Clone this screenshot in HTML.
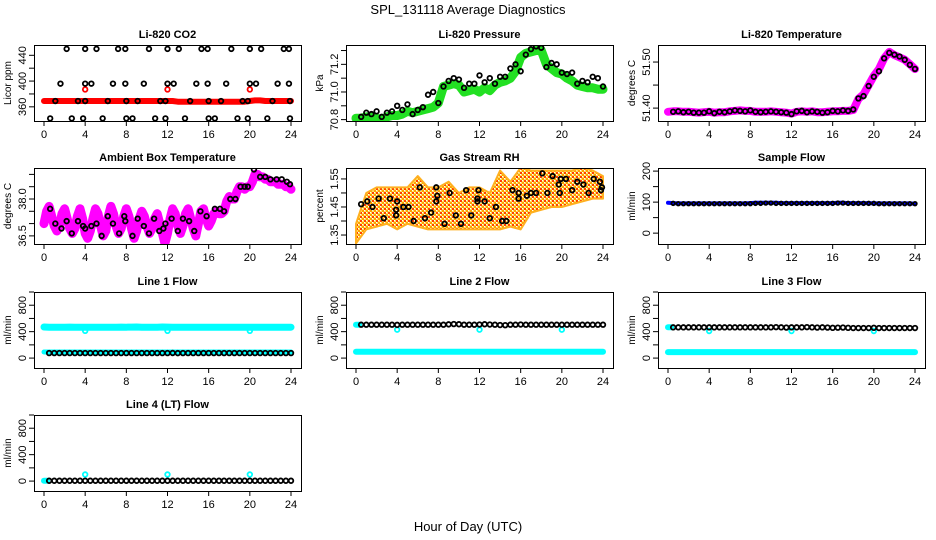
<!DOCTYPE html>
<html><head><meta charset="utf-8">
<style>
html,body{margin:0;padding:0;background:#fff;}
svg{display:block;font-family:"Liberation Sans",Arial,sans-serif;}
</style></head>
<body>
<svg id="chart" width="936" height="540" viewBox="0 0 936 540">
<defs>
<pattern id="rhpat" width="4" height="4" patternUnits="userSpaceOnUse">
<rect width="4" height="4" fill="#ffe060"/>
<rect x="0" y="0" width="2" height="2" fill="#ff4000"/>
<rect x="2" y="2" width="2" height="2" fill="#ffa000"/>
<rect x="2" y="0" width="1" height="1" fill="#ffffff"/>
<rect x="0" y="2" width="1" height="1" fill="#ffffff"/>
</pattern>
</defs>
<rect width="936" height="540" fill="#fff"/>
<text x="468" y="14" text-anchor="middle" font-size="13">SPL_131118  Average Diagnostics</text>
<text x="468" y="531" text-anchor="middle" font-size="13">Hour of Day (UTC)</text>
</svg>
<script>
// ---------- shared time arrays ----------
const bandHours = [0,0.5,1,1.5,2,2.5,3,3.5,4,4.5,5,5.5,6,6.5,7,7.5,8,8.5,9,9.5,10,10.5,11,11.5,12,12.5,13,13.5,14,14.5,15,15.5,16,16.5,17,17.5,18,18.5,19,19.5,20,20.5,21,21.5,22,22.5,23,23.5,24];
const ptHours = [0.5,1,1.5,2,2.5,3,3.5,4,4.5,5,5.5,6,6.5,7,7.5,8,8.5,9,9.5,10,10.5,11,11.5,12,12.5,13,13.5,14,14.5,15,15.5,16,16.5,17,17.5,18,18.5,19,19.5,20,20.5,21,21.5,22,22.5,23,23.5,24];
const xTicks = [0,4,8,12,16,20,24];
const spikeHours = [4,12,20];

// ---------- CO2 ----------
const co2Hours = [2.2,4,5.1,7.2,7.9,10.2,12,13.1,15.3,15.9,18.2,20,21.1,23.3,23.8, 1.6,4,4.6,6.7,7.9,9.7,12,12.6,14.8,15.9,17.7,20,20.6,22.7,23.8, 1.1,3.3,4,6.2,8,9.1,11.3,11.8,14.2,16,17.2,19.3,19.8,22.2,23.9, 0.6,2.7,3.8,5.7,8,8.6,10.8,11.8,13.7,16,16.6,18.8,19.8,21.7,23.9];
const co2Values = [450,450,450,450,450,450,450,450,450,450,450,450,450,450,450, 396,396,396,396,396,396,396,396,396,396,396,396,396,396,396, 369,369,369,369,369,369,369,369,369,369,369,369,369,369,369, 342,342,342,342,342,342,342,342,342,342,342,342,342,342,342];
const co2Band = [369,369,369,369,369,369,369,369,369,369,369,369,369,369,369,369,369,369,369,369,369,369,369,369,369,369,368,368,368,368,368,368,368,368,368,368,368,368,368,368,369,370,370,369,369,369,369,369,369];
const co2Spikes = [387,387,387];

// ---------- Pressure ----------
const presBand = [70.81,70.81,70.82,70.82,70.81,70.80,70.82,70.83,70.83,70.84,70.86,70.85,70.86,70.87,70.88,70.89,70.92,71.04,71.05,71.06,71.05,71.00,71.01,71.02,71.00,71.03,71.01,71.05,71.07,71.08,71.10,71.15,71.25,71.28,71.29,71.30,71.30,71.20,71.17,71.14,71.13,71.10,71.08,71.05,71.04,71.03,71.03,71.02,71.02];
const presPts = [70.82,70.85,70.84,70.86,70.82,70.85,70.86,70.90,70.87,70.91,70.84,70.87,70.89,70.98,71.00,70.92,71.04,71.08,71.10,71.09,71.03,71.06,71.06,71.12,71.07,71.10,71.06,71.11,71.11,71.17,71.20,71.15,71.27,71.31,71.33,71.32,71.18,71.21,71.20,71.14,71.13,71.14,71.06,71.08,71.07,71.11,71.10,71.04];

// ---------- Li-820 Temperature ----------
const liTempBand = [51.392,51.393,51.393,51.392,51.392,51.391,51.390,51.391,51.392,51.390,51.391,51.391,51.393,51.394,51.395,51.394,51.394,51.392,51.392,51.392,51.393,51.392,51.391,51.390,51.388,51.392,51.393,51.392,51.393,51.391,51.391,51.392,51.393,51.393,51.394,51.394,51.396,51.420,51.430,51.450,51.470,51.485,51.508,51.522,51.515,51.510,51.505,51.495,51.485];
const liTempPts = [51.392,51.393,51.391,51.392,51.390,51.390,51.390,51.393,51.389,51.392,51.391,51.393,51.395,51.394,51.393,51.395,51.392,51.391,51.392,51.393,51.392,51.391,51.390,51.387,51.393,51.394,51.391,51.393,51.392,51.390,51.391,51.394,51.393,51.395,51.394,51.397,51.421,51.426,51.448,51.468,51.480,51.508,51.520,51.516,51.512,51.505,51.494,51.485];

// ---------- Ambient Box Temperature ----------
const ambBand = [37.0,37.5,37.7,37.3,36.9,36.7,36.9,37.4,37.6,37.2,36.8,36.6,36.8,37.3,37.6,37.2,36.6,36.4,36.7,37.2,37.6,37.4,36.9,36.5,36.7,37.3,37.7,37.4,36.9,36.6,36.8,37.3,37.6,37.3,36.8,36.4,36.7,37.2,37.5,37.3,36.9,36.6,36.8,37.2,37.4,37.0,36.6,36.2,36.6,37.2,37.6,37.4,36.9,36.6,36.9,37.4,37.6,37.2,36.8,36.5,37.0,37.5,37.6,37.2,36.9,37.1,37.4,37.5,37.4,37.4,37.5,37.9,38.1,38.0,38.0,38.3,38.5,38.5,38.4,38.5,38.5,38.7,39.0,39.0,38.9,38.9,38.8,38.8,38.7,38.7,38.7,38.6,38.6,38.6,38.5,38.5,38.4];
const ambPtHours = [0.6,1.1,1.7,2.2,2.7,3.3,3.8,4,4.6,5.1,5.6,6.2,6.7,7.3,7.8,7.9,8.6,9.1,9.7,10.2,10.7,11.2,11.6,11.8,12.4,13,13.5,14.1,14.6,15.2,15.8,16.6,17.1,17.5,18.1,18.6,19.1,19.5,19.8,20.4,21,21.5,22,22.6,23.1,23.6,23.9];
const ambPts = [37.6,37.0,36.8,37.1,36.6,37.1,36.9,36.8,36.9,37.0,36.5,37.3,37.0,36.6,37.3,37.1,36.5,37.2,36.9,36.6,37.2,36.7,36.8,37.0,37.2,36.7,37.2,37.1,36.7,37.5,37.3,37.6,37.6,37.5,38.0,38.0,38.5,38.5,38.5,39.2,38.9,38.9,38.8,38.8,38.8,38.7,38.6];

// ---------- Gas Stream RH ----------
const rhBandHours = [0,1,2,3,4,5,6,7,8,9,10,11,12,13,14,15,16,17,18,19,20,21,22,23,24];
const rhLow = [1.32,1.37,1.38,1.39,1.37,1.39,1.38,1.37,1.37,1.37,1.37,1.37,1.37,1.37,1.37,1.38,1.37,1.43,1.44,1.45,1.45,1.46,1.47,1.48,1.48];
const rhHigh = [1.39,1.50,1.52,1.52,1.52,1.52,1.56,1.52,1.52,1.54,1.50,1.52,1.52,1.50,1.58,1.54,1.59,1.58,1.58,1.58,1.58,1.58,1.59,1.58,1.56];
const rhPtHours = [0.5,1.1,1.6,2.2,2.7,3.3,3.9,3.9,4,4.6,5.1,5.6,6.2,6.7,7.3,7.8,7.9,7.8,8.6,9.1,9.7,10.2,10.7,11.2,11.8,11.8,11.9,12.5,13,13.6,14.2,14.6,15.2,15.8,15.8,16.6,17,17.5,18.1,18.6,19.1,19.7,19.8,19.9,20.4,21,21.5,22.1,22.6,23.1,23.7,23.8,23.9];
const rhPts = [1.46,1.47,1.45,1.48,1.41,1.48,1.42,1.44,1.47,1.45,1.45,1.40,1.52,1.41,1.43,1.52,1.49,1.47,1.39,1.50,1.42,1.39,1.51,1.42,1.48,1.47,1.51,1.47,1.41,1.45,1.40,1.40,1.51,1.50,1.48,1.49,1.50,1.50,1.57,1.50,1.56,1.53,1.50,1.55,1.55,1.51,1.54,1.53,1.50,1.55,1.54,1.51,1.52];

// ---------- Sample Flow ----------
const sampleBand = [98,97,96,96,96,96,96,96,96,96,96,96,96,96,96,96,97,98,98,98,98,98,97,97,97,97,97,97,97,97,97,97,97,98,98,97,97,97,97,97,96,96,96,96,96,96,96,96,95];
const samplePts = [96,95,95,95,95,95,95,95,95,95,95,95,95,95,95,95,96,96,97,97,96,96,96,96,96,96,96,96,96,96,96,96,97,97,96,96,96,96,96,96,95,95,95,95,95,95,95,95];

// ---------- Line flows ----------
const l1High = [470,468,468,467,468,469,468,467,466,468,467,467,468,467,468,469,468,469,470,468,468,467,468,470,469,468,467,468,467,468,467,468,467,468,467,467,468,468,467,467,466,466,467,468,468,467,468,468,468];
const l1Low = [92,92,92,92,92,92,92,92,92,92,92,92,92,92,92,92,92,92,92,92,92,92,92,92,92,92,92,92,92,92,92,92,92,92,92,92,92,92,92,92,92,92,92,92,92,92,92,92,92];
const l1Pts = [76,76,76,76,76,76,76,76,76,76,76,76,76,76,76,76,76,76,76,76,76,76,76,76,77,75,76,76,76,76,76,76,76,76,76,76,76,76,76,76,76,76,76,76,76,76,76,76];
const l1Spikes = [412,412,412];

const l2Low = [95,95,95,95,95,95,95,95,95,95,95,95,95,95,95,95,95,95,95,95,95,95,95,95,95,95,95,95,95,95,95,95,95,95,95,95,95,95,95,95,95,95,95,95,95,95,95,95,95];
const l2Pts = [505,505,505,505,505,505,505,503,505,505,505,505,505,505,505,505,505,510,515,512,505,505,505,508,512,508,505,500,498,505,505,508,505,505,505,505,505,505,505,505,505,505,505,505,505,505,505,505];
const l2Spikes = [430,430,430];

const l3Low = [90,90,90,90,90,90,90,90,90,90,90,90,90,90,90,90,90,90,90,90,90,90,90,90,90,90,90,90,90,90,90,90,90,90,90,90,90,90,90,90,90,90,90,90,90,90,90,90,90];
const l3Pts = [465,465,465,465,465,465,465,465,465,465,465,465,465,465,465,465,465,465,465,465,468,465,462,465,465,465,468,465,462,465,462,458,460,462,458,455,455,455,455,458,455,455,455,455,455,455,455,455];
const l3Spikes = [410,410,410];

const l4Pts = [5,5,5,5,5,5,5,5,5,5,5,5,5,5,5,5,5,5,5,5,5,5,5,5,5,5,5,5,5,5,5,5,5,5,5,5,5,5,5,5,5,5,5,5,5,5,5,5];
const l4Spikes = [100,100,100];

// ---------- axis tick arrays ----------
const co2Ticks = [360,380,400,420,440], co2Labels = ["360","400","440"];
const presTicks = [70.8,70.9,71.0,71.1,71.2,71.3], presLabels = ["70.8","71.0","71.2"];
const liTempTicks = [51.40,51.45,51.50], liTempLabels = ["51.40","51.50"];
const ambTicks = [36.5,37.0,37.5,38.0,38.5,39.0], ambLabels = ["36.5","38.0"];
const rhTicks = [1.35,1.40,1.45,1.50,1.55], rhLabels = ["1.35","1.45","1.55"];
const sampleTicks = [0,50,100,150,200], sampleLabels = ["0","100","200"];
const flowTicks = [0,200,400,600,800,1000], flowLabels = ["0","400","800"];

// ---------- layout ----------
const NS = "http://www.w3.org/2000/svg";
const svg = document.getElementById("chart");
const rowTops = [45, 168, 292, 415];
const BOXW = 267, BOXH = 76;

function mk(tag, attrs, parent) {
  const e = document.createElementNS(NS, tag);
  for (const k in attrs) e.setAttribute(k, attrs[k]);
  (parent || svg).appendChild(e);
  return e;
}

function makePanel(col, row, title, ylab, ymin, ymax, ticks, labels, slug) {
  const x0 = 34 + col * 312, y0 = rowTops[row];
  const g = mk("g", {});
  
  
  const p = {g, x0, y0,
    sx: h => x0 + 10 + h * (247 / 24),
    sy: v => y0 + BOXH - (v - ymin) / (ymax - ymin) * BOXH};
  const clip = mk("clipPath", {id: "clip-" + slug}, g);
  mk("rect", {x: x0, y: y0, width: BOXW, height: BOXH}, clip);
  p.data = mk("g", {"clip-path": "url(#clip-" + slug + ")"}, g);
  
  
  const t = mk("text", {x: x0 + BOXW / 2, y: y0 - 7, "text-anchor": "middle", "font-size": "11", "font-weight": "bold"}, g);
  t.textContent = title;
  
  
  const yl = mk("text", {x: 0, y: 0, "text-anchor": "middle", "font-size": "10", transform: `translate(${x0 - 23},${y0 + BOXH / 2}) rotate(-90)`}, g);
  yl.textContent = ylab;
  
  
  const xa = mk("g", {stroke: "#000", "stroke-width": "1"}, g);
  
  
  xTicks.forEach(h => {
    mk("line", {x1: p.sx(h), x2: p.sx(h), y1: y0 + BOXH, y2: y0 + BOXH + 5}, xa);
    const lt = mk("text", {x: p.sx(h), y: y0 + BOXH + 17, "text-anchor": "middle", "font-size": "11", stroke: "none", fill: "#000"}, xa);
    lt.textContent = String(h);
    
    
  });
  const ya = mk("g", {stroke: "#000", "stroke-width": "1"}, g);
  
  
  ticks.forEach(v => {
    mk("line", {x1: x0 - 5, x2: x0, y1: p.sy(v), y2: p.sy(v)}, ya);
  });
  labels.forEach(s => {
    const yy = p.sy(parseFloat(s));
    const lt = mk("text", {x: 0, y: 0, "text-anchor": "middle", "font-size": "11", stroke: "none", fill: "#000", transform: `translate(${x0 - 8},${yy}) rotate(-90)`}, ya);
    lt.textContent = s;
    
    
  });
  const b = mk("rect", {x: x0 + 0.5, y: y0 + 0.5, width: BOXW, height: BOXH, fill: "none", stroke: "#000", "stroke-width": "1"}, g);
  
  
  return p;
}

function band(p, hrs, vals, color, w, name) {
  const pts = vals.map((v, i) => p.sx(hrs[i]).toFixed(1) + "," + p.sy(v).toFixed(1)).join(" ");
  const l = mk("polyline", {points: pts, fill: "none", stroke: color, "stroke-width": w, "stroke-linejoin": "round", "stroke-linecap": "round"}, p.data);
  
  
}
function circles(p, hrs, vals, color, name, r) {
  vals.forEach((v, i) => {
    const c = mk("circle", {cx: p.sx(hrs[i]), cy: p.sy(v), r: r || 2.3, fill: "none", stroke: color, "stroke-width": "1.8"}, p.data);
    
    
  });
}
function stepHours(n) { return Array.from({length: n}, (_, i) => i * 24 / (n - 1)); }

// ---------- draw panels ----------
let p;
p = makePanel(0, 0, "Li-820 CO2", "Licor ppm", 338, 456, co2Ticks, co2Labels, "co2");
band(p, bandHours, co2Band, "#ff0000", 6, "co2-band");
circles(p, spikeHours, co2Spikes, "#ff0000", "co2-red-point");
circles(p, co2Hours, co2Values, "#000", "co2-point");

p = makePanel(1, 0, "Li-820 Pressure", "kPa", 70.79, 71.34, presTicks, presLabels, "pressure");
band(p, bandHours, presBand, "#22e022", 9, "pressure-band");
circles(p, ptHours, presPts, "#000", "pressure-point");

p = makePanel(2, 0, "Li-820 Temperature", "degrees C", 51.372, 51.537, liTempTicks, liTempLabels, "li-temp");
band(p, bandHours, liTempBand, "#ff00ff", 8, "li-temp-band");
circles(p, ptHours, liTempPts, "#000", "li-temp-point");

p = makePanel(0, 1, "Ambient Box Temperature", "degrees C", 36.17, 39.26, ambTicks, ambLabels, "ambient");
band(p, stepHours(ambBand.length), ambBand, "#ff00ff", 9, "ambient-band");
circles(p, ambPtHours, ambPts, "#000", "ambient-point");

p = makePanel(1, 1, "Gas Stream RH", "percent", 1.318, 1.589, rhTicks, rhLabels, "rh");
{
  const top = rhHigh.map((v, i) => p.sx(rhBandHours[i]).toFixed(1) + "," + p.sy(v).toFixed(1));
  const bot = rhLow.map((v, i) => p.sx(rhBandHours[i]).toFixed(1) + "," + p.sy(v).toFixed(1)).reverse();
  const a = mk("polygon", {points: top.concat(bot).join(" "), fill: "url(#rhpat)", stroke: "#ffb020", "stroke-width": "2", "stroke-linejoin": "round"}, p.data);
  
  
}
circles(p, rhPtHours, rhPts, "#000", "rh-point");

p = makePanel(2, 1, "Sample Flow", "ml/min", -35, 210, sampleTicks, sampleLabels, "sample-flow");
band(p, bandHours, sampleBand, "#0000ff", 4, "sample-flow-band");
circles(p, ptHours, samplePts, "#000", "sample-flow-point", 1.8);

p = makePanel(0, 2, "Line 1 Flow", "ml/min", -150, 1000, flowTicks, flowLabels, "line1");
band(p, bandHours, l1High, "#00ffff", 7, "line1-high-band");
band(p, bandHours, l1Low, "#00ffff", 5, "line1-low-band");
circles(p, spikeHours, l1Spikes, "#00ffff", "line1-cyan-point");
circles(p, ptHours, l1Pts, "#000", "line1-point");

p = makePanel(1, 2, "Line 2 Flow", "ml/min", -150, 1000, flowTicks, flowLabels, "line2");
band(p, bandHours, l2Low, "#00ffff", 6, "line2-low-band");
band(p, [0, 0.3], [505, 505], "#00ffff", 6, "line2-start-band");
circles(p, spikeHours, l2Spikes, "#00ffff", "line2-cyan-point");
circles(p, ptHours, l2Pts, "#000", "line2-point");

p = makePanel(2, 2, "Line 3 Flow", "ml/min", -150, 1000, flowTicks, flowLabels, "line3");
band(p, bandHours, l3Low, "#00ffff", 6, "line3-low-band");
band(p, [0, 0.3], [468, 468], "#00ffff", 6, "line3-start-band");
circles(p, spikeHours, l3Spikes, "#00ffff", "line3-cyan-point");
circles(p, ptHours, l3Pts, "#000", "line3-point");

p = makePanel(0, 3, "Line 4 (LT) Flow", "ml/min", -150, 1000, flowTicks, flowLabels, "line4");
band(p, [0, 0.3], [5, 5], "#00ffff", 6, "line4-start-band");
circles(p, spikeHours, l4Spikes, "#00ffff", "line4-cyan-point");
circles(p, ptHours, l4Pts, "#000", "line4-point");
</script>
</body></html>
